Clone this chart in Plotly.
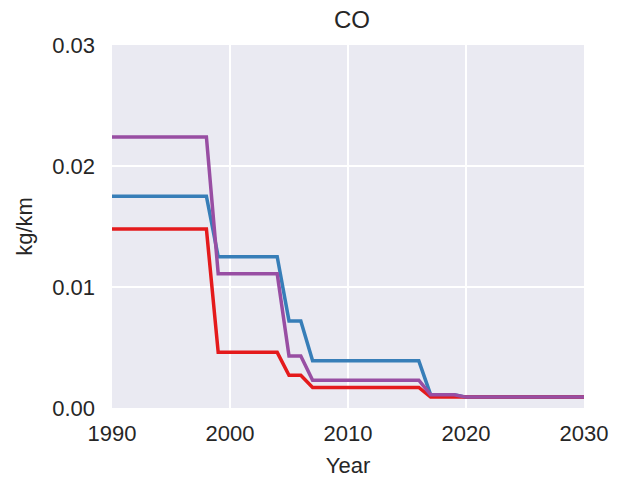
import plotly.graph_objects as go

years = list(range(1990, 2031))

def steps(segments):
    out = []
    for (y0, y1, v) in segments:
        out += [v] * (y1 - y0 + 1)
    return out

blue = steps([(1990, 1998, 0.0175), (1999, 2004, 0.0125), (2005, 2006, 0.0072),
              (2007, 2016, 0.0039), (2017, 2019, 0.0011), (2020, 2030, 0.0009)])
purple = steps([(1990, 1998, 0.0224), (1999, 2004, 0.0111), (2005, 2006, 0.0043),
                (2007, 2016, 0.0023), (2017, 2019, 0.0011), (2020, 2030, 0.0009)])
red = steps([(1990, 1998, 0.0148), (1999, 2004, 0.0046), (2005, 2006, 0.0027),
             (2007, 2016, 0.0017), (2017, 2030, 0.0009)])

fig = go.Figure()
for vals, col in [(blue, "#377eb8"), (red, "#e41a1c"), (purple, "#984ea3")]:
    fig.add_trace(go.Scatter(x=years, y=vals, mode="lines",
                             line=dict(color=col, width=3.5), showlegend=False))

font = "Liberation Sans, Arial, sans-serif"
W, H = 620, 485
L, R, T, B = 112, 28, 45, 74
fig.update_layout(
    width=W, height=H,
    margin=dict(l=L, r=R, t=T, b=B),
    paper_bgcolor="white", plot_bgcolor="#EAEAF2",
    font=dict(family=font, size=22, color="#262626"),
    title=dict(text="CO", x=(L + (W - L - R) / 2) / W, xanchor="center", xref="container",
               yref="container", y=1 - 20 / H, yanchor="middle",
               font=dict(size=24, color="#262626")),
)
fig.update_xaxes(range=[1990, 2030], tickvals=[1990, 2000, 2010, 2020, 2030],
                 showgrid=True, gridcolor="white", gridwidth=2, zeroline=False,
                 showline=False, ticks="", tickfont=dict(size=22), ticklabelstandoff=10,
                 title=dict(text="Year", font=dict(size=22), standoff=12))
fig.update_yaxes(range=[0, 0.03], tickvals=[0, 0.01, 0.02, 0.03],
                 ticktext=["0.00", "0.01", "0.02", "0.03"],
                 showgrid=True, gridcolor="white", gridwidth=2, zeroline=False,
                 showline=False, ticks="", tickfont=dict(size=22), ticklabelstandoff=16,
                 title=dict(text="kg/km", font=dict(size=22), standoff=13))

fig.write_html("out.html", config={"displayModeBar": False},
               post_script="document.body.style.margin='0';document.body.style.overflow='hidden';")
